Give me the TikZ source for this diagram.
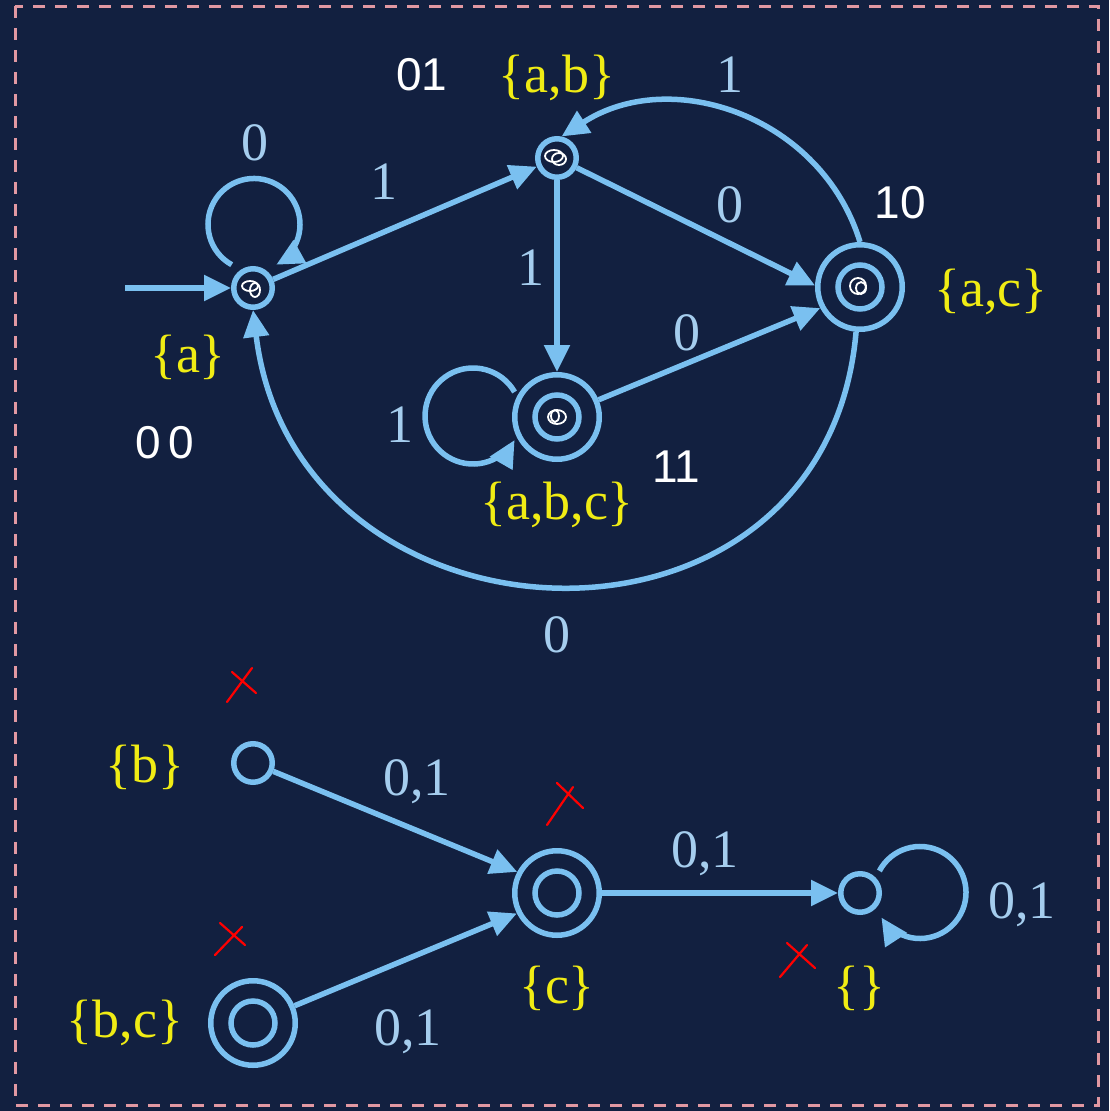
\documentclass[tikz,border=0pt]{standalone}
\usepackage{fontspec}
\setmainfont{Liberation Serif}
\newfontfamily\handfont{Liberation Sans}
\usetikzlibrary{arrows.meta,calc}
\definecolor{bg}{RGB}{18,32,64}
\definecolor{edgeblue}{RGB}{122,192,240}
\definecolor{lblblue}{RGB}{165,205,238}
\definecolor{stateyellow}{RGB}{240,236,20}
\definecolor{borderpink}{RGB}{225,152,162}
\begin{document}
\begin{tikzpicture}[x=1pt,y=1pt,
  state/.style={circle, draw=edgeblue, line width=5.5pt, minimum size=38.5pt, inner sep=0pt},
  accept/.style={state, minimum size=84.5pt,
    path picture={\draw[edgeblue, line width=5.5pt] (path picture bounding box.center) circle[radius=22pt];}},
  edge/.style={draw=edgeblue, line width=5.5pt, -{Triangle[length=27pt,width=25pt]}},
  lbl/.style={text=lblblue, font=\fontsize{54}{60}\selectfont, inner sep=0pt},
  sname/.style={text=stateyellow, font=\fontsize{54}{60}\selectfont, inner sep=0pt},
  hand/.style={text=white, font=\handfont\fontsize{46}{50}\selectfont, inner sep=0pt},
  cross/.style={draw=red, line width=2.2pt, line cap=round},
  scrib/.style={draw=white, line width=1.8pt}]
\useasboundingbox (0,0) rectangle (1109,-1111);
\fill[bg] (0,0) rectangle (1109,-1111);
\draw[borderpink, line width=3pt, dash pattern=on 12pt off 10pt] (15,-6) rectangle (1098,-1105);

% states
\node[state] (a) at (253,-288) {};
\node[state] (ab) at (557,-158) {};
\node[accept] (ac) at (860,-287) {};
\node[accept] (abc) at (557,-417) {};
\node[state] (b) at (253,-763) {};
\node[accept] (c) at (557,-893) {};
\node[accept] (bc) at (253,-1023) {};
\node[state] (e) at (860,-893) {};

% scribbles
\draw[scrib] (a.center) ++(-3,2) ellipse[x radius=8, y radius=5];
\draw[scrib] (a.center) ++(2,-2) ellipse[x radius=5, y radius=7];
\draw[scrib] (ab.center) ++(-3,2) ellipse[x radius=9, y radius=6];
\draw[scrib] (ab.center) ++(2,-1) ellipse[x radius=7, y radius=6];
\draw[scrib] (ac.center) ++(-2,1) ellipse[x radius=8, y radius=8];
\draw[scrib] (ac.center) ++(1,-1) ellipse[x radius=5, y radius=6];
\draw[scrib] (abc.center) ++(0,0) ellipse[x radius=9, y radius=7];
\draw[scrib] (abc.center) ++(-2,1) ellipse[x radius=4, y radius=6];

% top automaton edges
\coordinate (start) at (125,-288);
\draw[edge] (start) -- (a);
\draw[edge] ([shift={(-21.3,23.3)}]a.center) arc[start angle=241, end angle=-61, radius=46];
\draw[edge] (a) -- (ab);
\draw[edge] (ab) -- (ac.178);
\draw[edge] (ab) -- (abc);
\draw[edge] (abc) -- (ac.208);
\draw[edge] ([shift={(-42.4,25)}]abc.center) arc[start angle=30, end angle=330, radius=48];
\draw[edge] (ac.north) to[out=107, in=33, looseness=1.06] (ab.78);
\draw[edge] (ac.265) to[out=-95, in=-83, looseness=1.5] (a.south);

% bottom automaton edges
\draw[edge] (b) -- (c.152);
\draw[edge] (bc) -- (c.207);
\draw[edge] (c) -- (e);
\draw[edge] ([shift={(19.4,22.1)}]e.center) arc[start angle=152, end angle=-147, radius=46];

% edge labels
\node[lbl] (l0a) at (255,-143) {0};
\node[lbl] (l1aab) at (384,-182) {1};
\node[lbl] (l1top) at (730,-75) {1};
\node[lbl] (l0abac) at (730,-205) {0};
\node[lbl] (l1ababc) at (531,-268) {1};
\node[lbl] (l0abcac) at (687,-333) {0};
\node[lbl] (l1loop) at (400,-425) {1};
\node[lbl] (l0bot) at (557,-635) {0};
\node[lbl] (l01b) at (417,-782) {0,1};
\node[lbl] (l01bc) at (408,-1032) {0,1};
\node[lbl] (l01ce) at (705,-854) {0,1};
\node[lbl] (l01e) at (1022,-905) {0,1};

% state names
\node[sname] (na) at (188,-357) {\{a\}};
\node[sname] (nab) at (557,-78) {\{a,b\}};
\node[sname] (nac) at (991,-292) {\{a,c\}};
\node[sname] (nabc) at (557,-505) {\{a,b,c\}};
\node[sname] (nb) at (145,-767) {\{b\}};
\node[sname] (nbc) at (125,-1023) {\{b,c\}};
\node[sname] (nc) at (557,-988) {\{c\}};
\node[sname] (ne) at (859,-988) {\{\}};

% handwritten codes
\node[hand] (h01) at (422,-75) {01};
\node[hand] (h10) at (900,-203) {10};
\node[hand] (h11) at (676,-467) {11};
\node[hand] (h00) at (165,-443) {0\,0};

% red crosses
\draw[cross] (227,-702) -- (252,-668) (232,-672) -- (256,-693);
\draw[cross] (547,-825) -- (573,-787) (557,-783) -- (583,-808);
\draw[cross] (215,-955) -- (242,-927) (220,-923) -- (245,-945);
\draw[cross] (780,-977) -- (807,-945) (787,-943) -- (815,-968);
\end{tikzpicture}
\end{document}
